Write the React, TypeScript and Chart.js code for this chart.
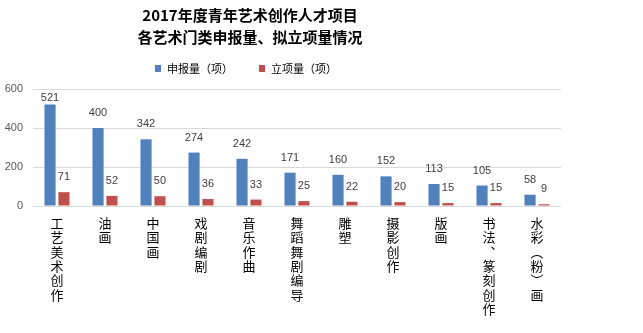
import React, { useEffect, useRef } from "react";
import { Chart, registerables } from "chart.js";

Chart.register(...registerables);

const titleLines = ["2017年度青年艺术创作人才项目", "各艺术门类申报量、拟立项量情况"];
const categories: string[][] = [
  ["工", "艺", "美", "术", "创", "作"],
  ["油", "画"],
  ["中", "国", "画"],
  ["戏", "剧", "编", "剧"],
  ["音", "乐", "作", "曲"],
  ["舞", "蹈", "舞", "剧", "编", "导"],
  ["雕", "塑"],
  ["摄", "影", "创", "作"],
  ["版", "画"],
  ["书", "法", "︑", "篆", "刻", "创", "作"],
  ["水", "彩", "︵", "粉", "︶", "画"],
];
const seriesNames = ["申报量（项）", "立项量（项）"];
const applied = [521, 400, 342, 274, 242, 171, 160, 152, 113, 105, 58];
const approved = [71, 52, 50, 36, 33, 25, 22, 20, 15, 15, 9];
const yTicks = [0, 200, 400, 600];
const colors = ["#4F81BD", "#C0504D"];

const CJK = '"Noto Sans CJK SC", "Noto Sans", sans-serif';

const overlayPlugin = {
  id: "overlay",
  afterDatasetsDraw(chart: any) {
    const ctx = chart.ctx;
    ctx.save();
    ctx.font = "11px 'Liberation Sans', Arial, sans-serif";
    ctx.fillStyle = "#404040";
    ctx.textAlign = "center";
    ctx.textBaseline = "middle";
    chart.data.datasets.forEach((ds: any, di: number) => {
      const meta = chart.getDatasetMeta(di);
      meta.data.forEach((el: any, i: number) => {
        let y = el.y - 15;
        if (y < chart.chartArea.top + 9) y = chart.chartArea.top + 9;
        ctx.fillText(String(ds.data[i]), el.x, y);
      });
    });
    ctx.restore();
  },
  afterDraw(chart: any) {
    const ctx = chart.ctx;
    ctx.save();
    ctx.fillStyle = "#000000";
    ctx.textAlign = "center";
    ctx.textBaseline = "middle";
    ctx.font = `bold 15px ${CJK}`;
    ctx.fillText(titleLines[0], 250, 15);
    ctx.fillText(titleLines[1], 250, 37);
    // legend
    ctx.font = `11px ${CJK}`;
    ctx.textAlign = "left";
    const xs = [155, 259];
    seriesNames.forEach((name, i) => {
      ctx.fillStyle = colors[i];
      ctx.fillRect(xs[i], 65, 6, 7);
      ctx.fillStyle = "#000000";
      ctx.fillText(name, xs[i] + 12, 68.5);
    });
    ctx.restore();
  },
};

export default function App() {
  const ref = useRef<HTMLCanvasElement | null>(null);
  useEffect(() => {
    if (!ref.current) return;
    const chart = new Chart(ref.current, {
      type: "bar",
      data: {
        labels: categories,
        datasets: [
          { label: seriesNames[0], data: applied, backgroundColor: colors[0] },
          { label: seriesNames[1], data: approved, backgroundColor: colors[1] },
        ],
      },
      options: {
        animation: false,
        responsive: false,
        maintainAspectRatio: false,
        datasets: { bar: { categoryPercentage: 0.58, barPercentage: 0.8 } },
        layout: { padding: { top: 89, right: 82, left: 0, bottom: 0 } },
        plugins: {
          legend: { display: false },
          title: { display: false },
          tooltip: { enabled: false },
        },
        scales: {
          x: {
            grid: { display: false, drawTicks: false },
            border: { display: false },
            ticks: {
              autoSkip: false,
              maxRotation: 0,
              minRotation: 0,
              padding: 10,
              color: "#000000",
              font: { family: CJK, size: 13, lineHeight: 1.1 },
            },
            afterFit: (s: any) => {
              s.height = 127;
            },
          },
          y: {
            min: 0,
            max: 600,
            afterBuildTicks: (s: any) => {
              s.ticks = yTicks.map((v) => ({ value: v }));
            },
            grid: { color: "#D9D9D9", drawTicks: false },
            border: { display: false },
            ticks: {
              padding: 10,
              color: "#595959",
              font: { family: "'Liberation Sans', Arial, sans-serif", size: 11 },
            },
            afterFit: (s: any) => {
              s.width = 33;
            },
          },
        },
      },
      plugins: [overlayPlugin],
    });
    return () => chart.destroy();
  }, []);
  return (
    <div style={{ position: "absolute", left: 0, top: 0, width: 643, height: 333, background: "#fff" }}>
      <canvas ref={ref} width={643} height={333} style={{ width: 643, height: 333 }} />
    </div>
  );
}
